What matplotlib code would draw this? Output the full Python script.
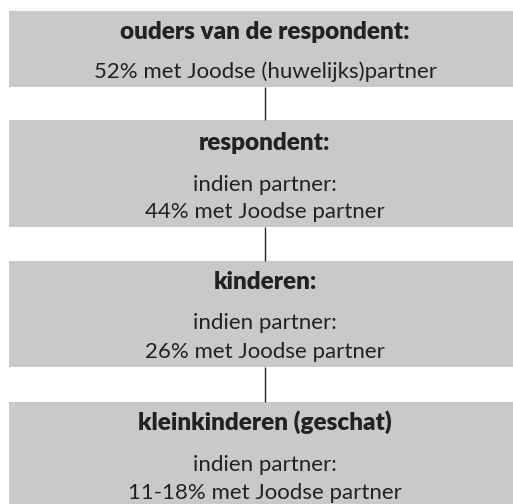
import matplotlib
matplotlib.use("Agg")
import matplotlib.pyplot as plt
from matplotlib.patches import Rectangle

# ---- data ----
titles = ["ouders van de respondent:", "respondent:", "kinderen:", "kleinkinderen (geschat)"]
body_lines = [
    ["52% met Joodse (huwelijks)partner"],
    ["indien partner:", "44% met Joodse partner"],
    ["indien partner:", "26% met Joodse partner"],
    ["indien partner:", "11-18% met Joodse partner"],
]

# ---- layout (pixels) ----
W, H = 513, 504
box_left, box_right = 9, 513
box_tops = [11, 120, 261, 402]
box_bottoms = [87, 227, 367, 510]
title_y = [32, 143, 282, 422]
body_y = [[72], [185, 212], [323, 352], [465, 493]]
line_x = 265
box_color = "#c8c9cb"
text_color = "#222222"
FONT = "Lato"

fig = plt.figure(figsize=(W / 100, H / 100), dpi=100)
ax = fig.add_axes([0, 0, 1, 1])
ax.set_xlim(0, W)
ax.set_ylim(H, 0)
ax.axis("off")

for i, t in enumerate(titles):
    ax.add_patch(Rectangle((box_left, box_tops[i]), box_right - box_left,
                           box_bottoms[i] - box_tops[i], facecolor=box_color,
                           edgecolor="none", zorder=1))
    ax.text(line_x, title_y[i], t, ha="center", va="center", fontsize=17.5,
            fontweight="heavy", family=FONT, color=text_color, zorder=3)
    for ln, y in zip(body_lines[i], body_y[i]):
        ax.text(line_x, y, ln, ha="center", va="center", fontsize=16,
                family=FONT, color=text_color, zorder=3)
    if i < len(titles) - 1:
        ax.plot([line_x, line_x], [box_bottoms[i], box_tops[i + 1]],
                color=text_color, lw=1.0, zorder=2, solid_capstyle="butt")

fig.savefig("out.png", dpi=100)
